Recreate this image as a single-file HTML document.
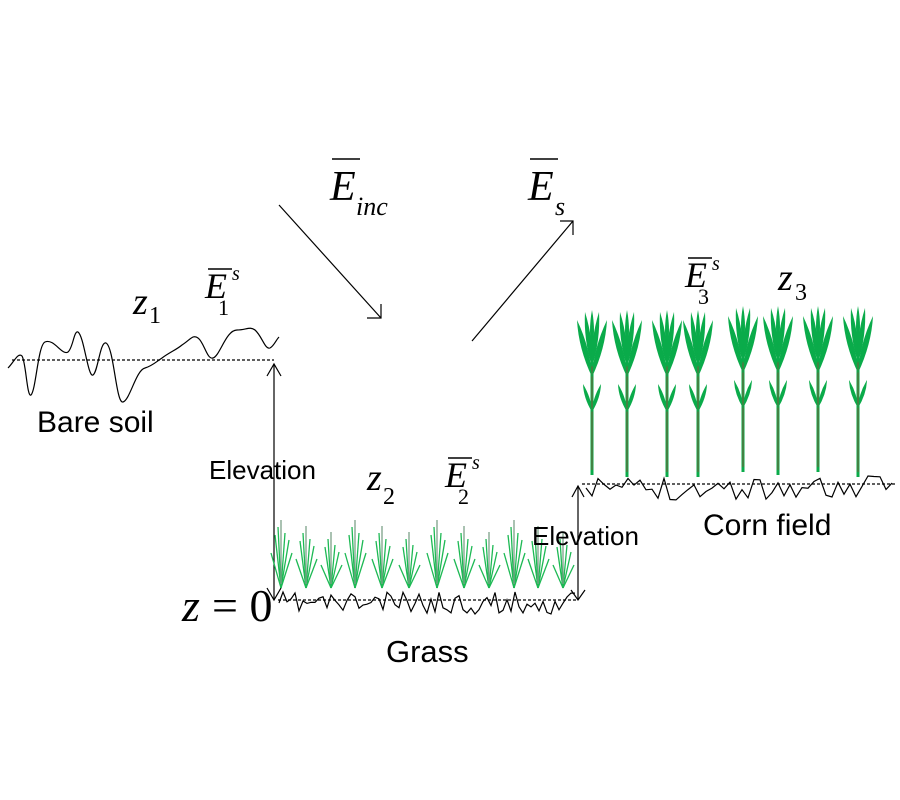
<!DOCTYPE html>
<html><head><meta charset="utf-8"><style>
html,body{margin:0;padding:0;background:#fff;width:900px;height:800px;overflow:hidden}
svg{display:block}
.s{font-family:"Liberation Sans",sans-serif;fill:#000}
.m{font-family:"Liberation Serif",serif;font-style:italic;fill:#000}
.n{font-family:"Liberation Serif",serif;fill:#000}
</style></head><body>
<svg id="sv" width="900" height="800" viewBox="0 0 900 800" xmlns="http://www.w3.org/2000/svg">
<g stroke="#000" stroke-width="1.2" fill="none">
<path d="M8,368 C14,362 18,352 22,356 C26,362 27,398 31,395 C36,390 38,345 45,342 C54,338 62,356 68,352 C73,348 74,330 78,332 C84,336 88,378 93,375 C98,372 100,341 106,343 C114,347 116,404 123,402 C130,400 136,370 145,368 C152,366 156,362 162,358 C170,352 176,350 182,345 C190,340 193,334 198,338 C204,342 207,360 213,358 C220,356 226,330 237,330 C246,330 250,326 255,330 C262,336 265,350 270,348 C274,346 276,340 279,337"/>
<line x1="12" y1="360" x2="274" y2="360" stroke-dasharray="3,2"/>
<line x1="279" y1="205" x2="381" y2="318"/>
<polyline points="381,304 381,318 367,318"/>
<line x1="472" y1="341" x2="573" y2="221"/>
<polyline points="560,221 573,221 573,235"/>
<line x1="274" y1="364" x2="274" y2="600"/>
<polyline points="267,376 274,364 281,376"/>
<polyline points="267,588 274,600 281,588"/>
<line x1="578" y1="486" x2="578" y2="600"/>
<polyline points="572,497 578,486 584,497"/>
<polyline points="571,590 578,600 585,590"/>
<line x1="278" y1="600" x2="578" y2="600" stroke-dasharray="3,2"/>
<line x1="582" y1="484" x2="895" y2="484" stroke-dasharray="3,2"/>
<path id="gr"/>
<path id="cr"/>
</g>
<g id="tufts"></g>
<g id="corn"></g>
<text class="m" x="133" y="314" font-size="38">z</text><text class="n" x="149" y="323" font-size="24">1</text>
<text class="m" x="205" y="298" font-size="36">E</text><text class="n" x="218" y="315" font-size="22">1</text><text class="m" x="232" y="280" font-size="20">s</text>
<line x1="208" y1="269" x2="232" y2="269" stroke="#000" stroke-width="1.5"/>
<text class="m" x="330" y="200" font-size="42">E</text><text class="m" x="356" y="215" font-size="26">inc</text>
<line x1="332" y1="159" x2="360" y2="159" stroke="#000" stroke-width="1.5"/>
<text class="m" x="528" y="200" font-size="42">E</text><text class="m" x="555" y="215" font-size="26">s</text>
<line x1="530" y1="159" x2="558" y2="159" stroke="#000" stroke-width="1.5"/>
<text class="m" x="685" y="287" font-size="36">E</text><text class="n" x="698" y="304" font-size="22">3</text><text class="m" x="712" y="270" font-size="20">s</text>
<line x1="688" y1="258" x2="712" y2="258" stroke="#000" stroke-width="1.5"/>
<text class="m" x="778" y="290" font-size="38">z</text><text class="n" x="795" y="300" font-size="24">3</text>
<text class="m" x="367" y="490" font-size="38">z</text><text class="n" x="383" y="504" font-size="24">2</text>
<text class="m" x="445" y="487" font-size="36">E</text><text class="n" x="458" y="504" font-size="22">2</text><text class="m" x="472" y="469" font-size="20">s</text>
<line x1="448" y1="458" x2="472" y2="458" stroke="#000" stroke-width="1.5"/>
<text class="m" x="182" y="621" font-size="46">z</text><text class="n" x="212" y="621" font-size="46">= 0</text>
<text class="s" x="37" y="432" font-size="30">Bare soil</text>
<text class="s" x="209" y="479" font-size="26">Elevation</text>
<text class="s" x="532" y="545" font-size="26">Elevation</text>
<text class="s" x="386" y="662" font-size="31">Grass</text>
<text class="s" x="703" y="535" font-size="30">Corn field</text>
</svg>
<script>
var seed=11;function r(){seed=(seed*16807)%2147483647;return seed/2147483647;}
function rough(x0,x1,y,amp,step){var d="M"+x0+","+y;for(var x=x0+step;x<=x1;x+=step){d+=" L"+x+","+(y+(r()-0.5)*2*amp).toFixed(1);}return d;}
document.getElementById("gr").setAttribute("d",rough(279,578,603,11,4));
document.getElementById("cr").setAttribute("d",rough(586,893,488,12,6));
var t=document.getElementById("tufts");
[281,306,331,355,382,409,437,464,489,514,538,563].forEach(function(x,i){
 var b=588;var top=525+(i%3)*6;
 var g="";
 [[-10,top+28],[-6,top+10],[-3,top+2],[0,top-5],[4,top+8],[8,top+15],[11,top+28]].forEach(function(p){
  g+='<line x1="'+x+'" y1="'+b+'" x2="'+(x+p[0])+'" y2="'+p[1]+'" stroke="#1db954" stroke-width="1.3"/>';});
 g+='<line x1="'+x+'" y1="'+(b-4)+'" x2="'+x+'" y2="'+(top-5)+'" stroke="#999" stroke-width="1"/>';
 t.insertAdjacentHTML("beforeend",g);
});
var c=document.getElementById("corn");
[[592,475],[627,477],[667,477],[698,477],[743,472],[778,475],[818,472],[858,477]].forEach(function(p,i){
 var x=p[0],b=p[1],top=i>=4?308:312;
 var col="#0aab4a";
 var g='<line x1="'+x+'" y1="'+b+'" x2="'+x+'" y2="'+(top+20)+'" stroke="'+col+'" stroke-width="3"/>';
 g+='<line x1="'+x+'" y1="'+(b-5)+'" x2="'+x+'" y2="'+(top+45)+'" stroke="#7a5b3a" stroke-width="1"/>';
 function leaf(x0,y0,x1,y1,w){var mx=(x0+x1)/2,my=(y0+y1)/2;return '<path d="M'+x0+','+y0+' Q'+(mx-w)+','+(my)+' '+x1+','+y1+' Q'+(mx+w)+','+my+' '+x0+','+y0+'Z" fill="'+col+'"/>';}
 g+=leaf(x,top+65,x-15,top+8,6);g+=leaf(x,top+65,x+15,top+8,-6);
 g+=leaf(x,top+55,x-7,top,5);g+=leaf(x,top+55,x+7,top,-5);
 g+=leaf(x,top+40,x,top-2,4);
 g+=leaf(x,top+100,x-9,top+72,4);g+=leaf(x,top+100,x+9,top+72,-4);
 c.insertAdjacentHTML("beforeend",g);
});
</script>
</body></html>
